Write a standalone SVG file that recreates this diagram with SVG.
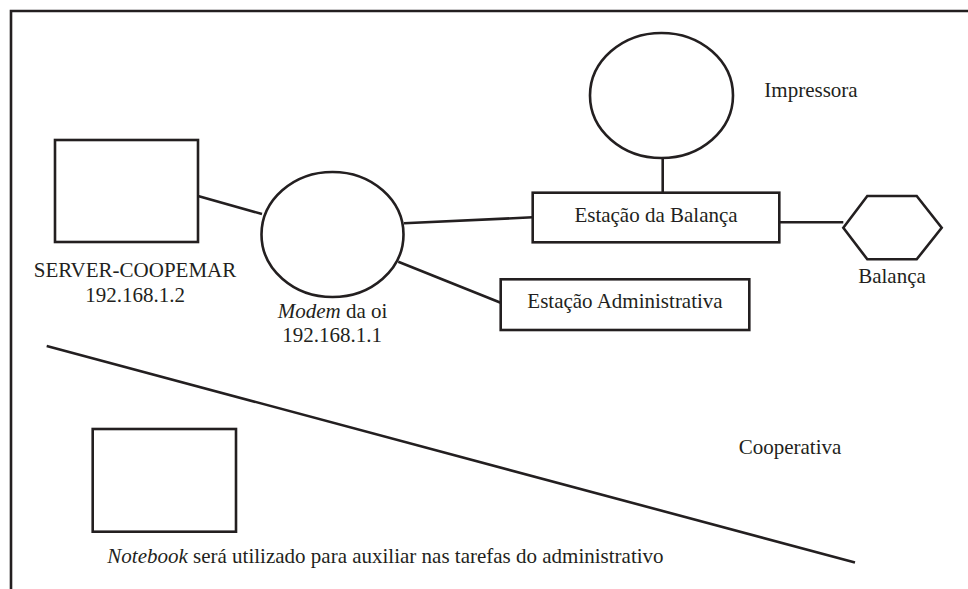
<svg xmlns="http://www.w3.org/2000/svg" width="968" height="589" viewBox="0 0 968 589">
<style>
.s{fill:#fff;stroke:#231f20;stroke-width:2.6}
.l{stroke:#231f20;stroke-width:2.6;fill:none}
.t{font-family:'Liberation Serif','Times New Roman','DejaVu Serif',serif;font-size:21px;fill:#231f20}
.m{text-anchor:middle}
</style>
<rect width="968" height="589" fill="#fff"/>
<g id="frame"><path class="l" d="M11,589 V11 H968"/></g>
<g id="connectors">
<line class="l" x1="198" y1="196" x2="262" y2="214"/>
<line class="l" x1="404" y1="223.3" x2="532.7" y2="217.3"/>
<line class="l" x1="398.3" y1="261.7" x2="500.7" y2="302.7"/>
<line class="l" x1="662.7" y1="158" x2="662.7" y2="192"/>
<line class="l" x1="780" y1="222.3" x2="843.3" y2="222.3"/>
</g>
<g id="server" font-family="Liberation Serif, Times New Roman, serif">
<rect class="s" x="55" y="140" width="143" height="102"/>
<text class="t m" x="135" y="277">SERVER-COOPEMAR</text>
<text class="t m" x="135" y="302">192.168.1.2</text>
</g>
<g id="modem">
<ellipse class="s" cx="332.5" cy="234.5" rx="71" ry="62.5"/>
<text class="t m" x="332.5" y="318"><tspan font-style="italic">Modem</tspan> da oi</text>
<text class="t m" x="332" y="342">192.168.1.1</text>
</g>
<g id="impressora">
<ellipse class="s" cx="661.5" cy="95.5" rx="71.5" ry="62.5"/>
<text class="t m" x="811" y="97">Impressora</text>
</g>
<g id="estacao-balanca">
<rect class="s" x="532.7" y="192.7" width="246.6" height="49.6"/>
<text class="t m" x="656" y="222">Estação da Balança</text>
</g>
<g id="estacao-administrativa">
<rect class="s" x="500.7" y="279.3" width="248.6" height="50.7"/>
<text class="t m" x="625" y="308">Estação Administrativa</text>
</g>
<g id="balanca">
<polygon class="s" points="843.3,227.7 867.3,196 916.7,196 941.7,227.7 916.7,259.3 867.3,259.3"/>
<text class="t m" x="892" y="283">Balança</text>
</g>
<g id="divisor"><line class="l" x1="46.7" y1="346" x2="855" y2="562.5"/></g>
<g id="cooperativa"><text class="t m" x="790" y="454">Cooperativa</text></g>
<g id="notebook">
<rect class="s" x="92.7" y="429" width="143.3" height="102.7"/>
<text class="t" x="107.3" y="563"><tspan font-style="italic">Notebook</tspan> será utilizado para auxiliar nas tarefas do administrativo</text>
</g>
</svg>
